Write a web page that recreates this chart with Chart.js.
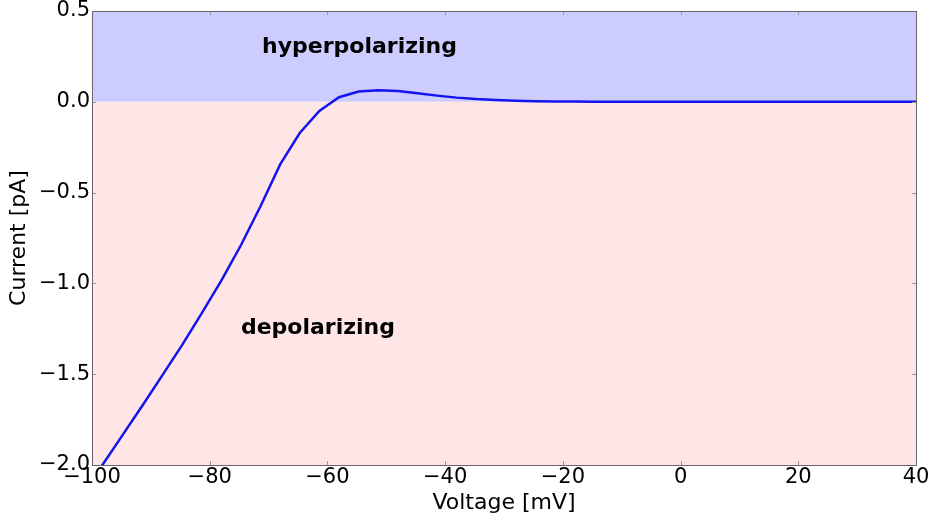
<!DOCTYPE html>
<html>
<head>
<meta charset="utf-8">
<script src="https://cdn.jsdelivr.net/npm/chart.js@4/dist/chart.umd.min.js"></script>
<style>
  html, body { margin: 0; padding: 0; background: #ffffff; }
  #wrap { width: 932px; height: 520px; }
</style>
</head>
<body>
<div id="wrap"><canvas id="c" width="932" height="520"></canvas></div>
<script>
// ---- data ----
const voltage = [-101.37, -98.03, -94.7, -91.37, -88.03, -84.7, -81.37, -78.03, -74.7, -71.37,
  -68.03, -64.7, -61.37, -58.03, -54.7, -51.37, -48.03, -44.7, -41.37, -38.03,
  -34.7, -31.37, -28.03, -24.7, -21.37, -18.03, -14.7, -11.37, -8.03, -4.7,
  -1.37, 1.97, 5.3, 8.63, 11.97, 15.3, 18.63, 21.97, 25.3, 28.63, 31.97, 35.3, 38.63, 41.97];
const current = [-2.15, -1.99, -1.83, -1.67, -1.505, -1.34, -1.165, -0.985, -0.79, -0.575,
  -0.345, -0.172, -0.05, 0.025, 0.057, 0.064, 0.059, 0.047, 0.034, 0.023,
  0.015, 0.0095, 0.006, 0.0035, 0.002, 0.0012, 0.0007, 0.0004, 0.0002, 0.0001,
  0.0, 0.0, 0.0, 0.0, 0.0, 0.0, 0.0, 0.0, 0.0, 0.0, 0.0, 0.0, 0.0, 0.0];
const xTickValues = [-100, -80, -60, -40, -20, 0, 20, 40];
const yTickValues = [-2.0, -1.5, -1.0, -0.5, 0.0, 0.5];
const regionLabels = ["hyperpolarizing", "depolarizing"];
const xTitle = "Voltage [mV]";
const yTitle = "Current [pA]";

const points = voltage.map((v, i) => ({ x: v, y: current[i] }));
const fmtMinus = s => s.replace('-', '\u2212');

const regionPlugin = {
  id: 'regions',
  beforeDatasetsDraw(chart) {
    const { ctx, chartArea: a, scales: { x, y } } = chart;
    const y0 = y.getPixelForValue(0);
    ctx.save();
    ctx.fillStyle = 'rgb(204,204,255)';
    ctx.fillRect(a.left, a.top, a.right - a.left, y0 - a.top);
    ctx.fillStyle = 'rgb(255,230,230)';
    ctx.fillRect(a.left, y0, a.right - a.left, a.bottom - y0);
    ctx.restore();
  },
  afterDraw(chart) {
    const { ctx, chartArea: a, scales: { x, y } } = chart;
    ctx.save();
    ctx.fillStyle = '#000';
    ctx.font = 'bold 22px "DejaVu Sans"';
    ctx.textAlign = 'left';
    ctx.textBaseline = 'middle';
    ctx.fillText(regionLabels[0], x.getPixelForValue(-71.1), y.getPixelForValue(0.3));
    ctx.fillText(regionLabels[1], x.getPixelForValue(-74.7), y.getPixelForValue(-1.245));
    ctx.strokeStyle = '#999';
    ctx.lineWidth = 1;
    const L = 4;
    ctx.beginPath();
    x.ticks.forEach(t => {
      const px = Math.round(x.getPixelForValue(t.value)) + 0.5;
      ctx.moveTo(px, a.bottom); ctx.lineTo(px, a.bottom - L);
      ctx.moveTo(px, a.top); ctx.lineTo(px, a.top + L);
    });
    y.ticks.forEach(t => {
      const py = Math.round(y.getPixelForValue(t.value)) + 0.5;
      ctx.moveTo(a.left, py); ctx.lineTo(a.left + L, py);
      ctx.moveTo(a.right, py); ctx.lineTo(a.right - L, py);
    });
    ctx.stroke();
    ctx.strokeStyle = '#666';
    ctx.lineWidth = 1;
    ctx.strokeRect(Math.round(a.left) + 0.5, Math.round(a.top) + 0.5,
      Math.round(a.right - a.left), Math.round(a.bottom - a.top));
    ctx.restore();
  }
};

new Chart(document.getElementById('c'), {
  type: 'line',
  data: {
    datasets: [{
      data: points,
      borderColor: 'rgb(20,20,240)',
      borderWidth: 2.5,
      pointRadius: 0,
      tension: 0,
      fill: false
    }]
  },
  options: {
    responsive: false,
    animation: false,
    devicePixelRatio: 1,
    layout: { padding: { top: 11, right: 16, left: 6, bottom: 0 } },
    plugins: { legend: { display: false }, tooltip: { enabled: false } },
    scales: {
      x: {
        type: 'linear',
        min: -100, max: 40,
        afterBuildTicks: s => { s.ticks = xTickValues.map(v => ({ value: v })); },
        afterFit: s => { s.height = 55; s.paddingLeft = 0; s.paddingRight = 0; },
        grid: { display: false, drawTicks: false, tickLength: 0 },
        border: { display: false },
        ticks: {
          color: '#000',
          font: { family: '"DejaVu Sans"', size: 21 },
          padding: 0,
          maxRotation: 0,
          autoSkip: false,
          callback: v => fmtMinus(String(v))
        },
        title: {
          display: true, text: xTitle, color: '#000',
          font: { family: '"DejaVu Sans"', size: 22 },
          padding: { top: 0, bottom: 4 }
        }
      },
      y: {
        type: 'linear',
        min: -2, max: 0.5,
        afterBuildTicks: s => { s.ticks = yTickValues.map(v => ({ value: v })); },
        afterFit: s => { s.width = 86; s.paddingTop = 0; s.paddingBottom = 0; },
        grid: { display: false, drawTicks: false, tickLength: 0 },
        border: { display: false },
        ticks: {
          color: '#000',
          font: { family: '"DejaVu Sans"', size: 21 },
          padding: 2,
          autoSkip: false,
          callback: v => fmtMinus(Number(v).toFixed(1))
        },
        title: {
          display: true, text: yTitle, color: '#000',
          font: { family: '"DejaVu Sans"', size: 22 },
          padding: { top: 0, bottom: 4 }
        }
      }
    }
  },
  plugins: [regionPlugin]
});
</script>
</body>
</html>
